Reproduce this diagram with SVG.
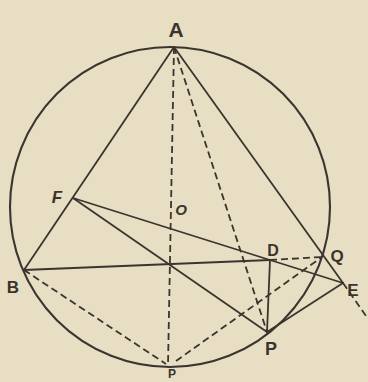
<svg xmlns="http://www.w3.org/2000/svg" width="368" height="382" viewBox="0 0 368 382">
<style>
.bg{fill:#e8dec4}
.s{stroke:#3a352e;stroke-width:1.8;fill:none;stroke-linecap:round}
.d{stroke:#3a352e;stroke-width:1.8;fill:none;stroke-dasharray:7 4}
.c{stroke:#3a352e;stroke-width:2.1;fill:none}
.t{font-family:"Liberation Sans",Arial,sans-serif;font-weight:bold;fill:#3a342c;text-anchor:middle}
</style>
<rect class="bg" x="0" y="0" width="368" height="382"/>
<g id="circle"><circle class="c" cx="170" cy="207" r="160"/></g>
<g id="connectors">
<line class="s" x1="174" y1="47" x2="24" y2="270"/>
<line class="s" x1="174" y1="47" x2="343" y2="283"/>
<line class="d" x1="343" y1="283" x2="366" y2="316"/>
<line class="d" x1="174" y1="47" x2="168" y2="366"/>
<line class="d" x1="174" y1="47" x2="267" y2="332"/>
<line class="s" x1="73" y1="198" x2="270" y2="260"/>
<line class="s" x1="73" y1="198" x2="267" y2="332"/>
<line class="s" x1="24" y1="270" x2="270" y2="260"/>
<line class="s" x1="270" y1="260" x2="267" y2="332"/>
<line class="s" x1="270" y1="260" x2="343" y2="283"/>
<line class="s" x1="267" y1="332" x2="343" y2="283"/>
<line class="d" x1="270" y1="260" x2="322" y2="257"/>
<line class="d" x1="24" y1="270" x2="166" y2="364"/>
<line class="d" x1="176" y1="361" x2="322" y2="257"/>
</g>
<g id="A"><text class="t" x="176" y="37" font-size="21" font-weight="normal">A</text></g>
<g id="F"><text class="t" x="57" y="203" font-size="17" font-style="italic">F</text></g>
<g id="O"><text class="t" x="181" y="215" font-size="15" font-style="italic">O</text></g>
<g id="B"><text class="t" x="13" y="293" font-size="17">B</text></g>
<g id="D"><text class="t" x="273" y="256" font-size="16">D</text></g>
<g id="Q"><text class="t" x="337" y="262" font-size="17">Q</text></g>
<g id="E"><text class="t" x="353" y="296" font-size="17">E</text></g>
<g id="P"><text class="t" x="271" y="355" font-size="18">P</text></g>
<g id="P2"><text class="t" x="172" y="378" font-size="12">P</text></g>
</svg>
